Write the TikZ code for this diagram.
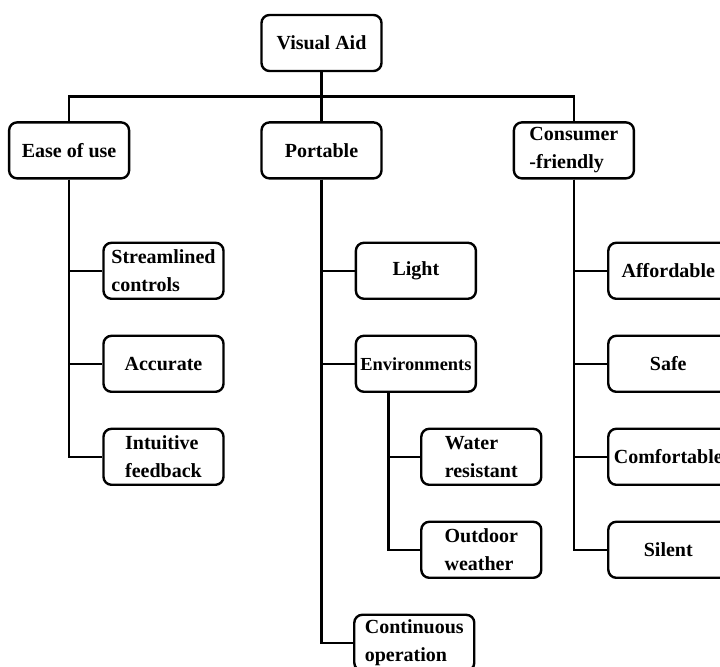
\documentclass[tikz,border=0pt]{standalone}
\usepackage{fontspec}
\setmainfont{Liberation Serif}
\usepackage{tikz}
\usetikzlibrary{positioning,calc}
\tikzstyle{block} = [rectangle, rounded corners=4pt, minimum width=60pt, minimum height=28pt, inner sep=2pt, align=left, draw=black, very thick, font=\bfseries\fontsize{10}{14}\selectfont]
\tikzstyle{link} = [draw=black, very thick]

\begin{document}
\begin{tikzpicture}  [node distance=17.3pt]
			\useasboundingbox (0,0) rectangle (360pt,-333.5pt);
			\node[block] (aid) at (160.75pt,-21.5pt) {Visual Aid};
			\node[block, below=24.5pt of aid] (port) {Portable};
			\node[block, left=65pt of port] (ease) {Ease of use};
			\node[block, right=65pt of port] (cons) {Consumer\\-friendly};
			% ease of use
			\node[block, below right=31pt and -14pt of ease] (stream) {Streamlined\\controls};
			\node[block, below=of stream] (acc) {Accurate};
			\node[block, below=of acc] (intu) {Intuitive\\feedback};
			% portable
			\node[block, below right=31pt and -14pt of port] (light) {Light};
			\node[block, below=of light, font=\bfseries\fontsize{9.2}{14}\selectfont] (env) {Environments};
			\node[block, below right=17.3pt and -28.5pt of env] (water) {Water\\resistant};
			\node[block, below=of water] (outd) {Outdoor\\weather};
			\node[block, below=of outd, xshift=-33.5pt] (cont) {Continuous\\operation};
			% consumer-friendly
			\node[block, below right=31pt and -14pt of cons] (aff) {Affordable};
			\node[block, below=of aff] (safe) {Safe};
			\node[block, below=of safe] (comf) {Comfortable};
			\node[block, below=of comf] (sil) {Silent};
			
			\coordinate (bus) at ($(aid.south)!0.5!(port.north)$);
			\coordinate (envdrop) at ([xshift=17pt]env.south west);
			
			%lines
			\draw [link] (aid) -- (port);
			\draw [link] (ease.north) |- (bus) -| (cons.north);
			
			\draw [link] (ease.south) |- (stream.west);
			\draw [link] (ease.south) |- (acc.west);
			\draw [link] (ease.south) |- (intu.west);
			
			\draw [link] (port.south) |- (light.west);
			\draw [link] (port.south) |- (env.west);
			\draw [link] (port.south) |- (cont.west);
			\draw [link] (envdrop) |- (water.west);
			\draw [link] (envdrop) |- (outd.west);
			
			\draw [link] (cons.south) |- (aff.west);
			\draw [link] (cons.south) |- (safe.west);
			\draw [link] (cons.south) |- (comf.west);
			\draw [link] (cons.south) |- (sil.west);
			
		\end{tikzpicture}
\end{document}
